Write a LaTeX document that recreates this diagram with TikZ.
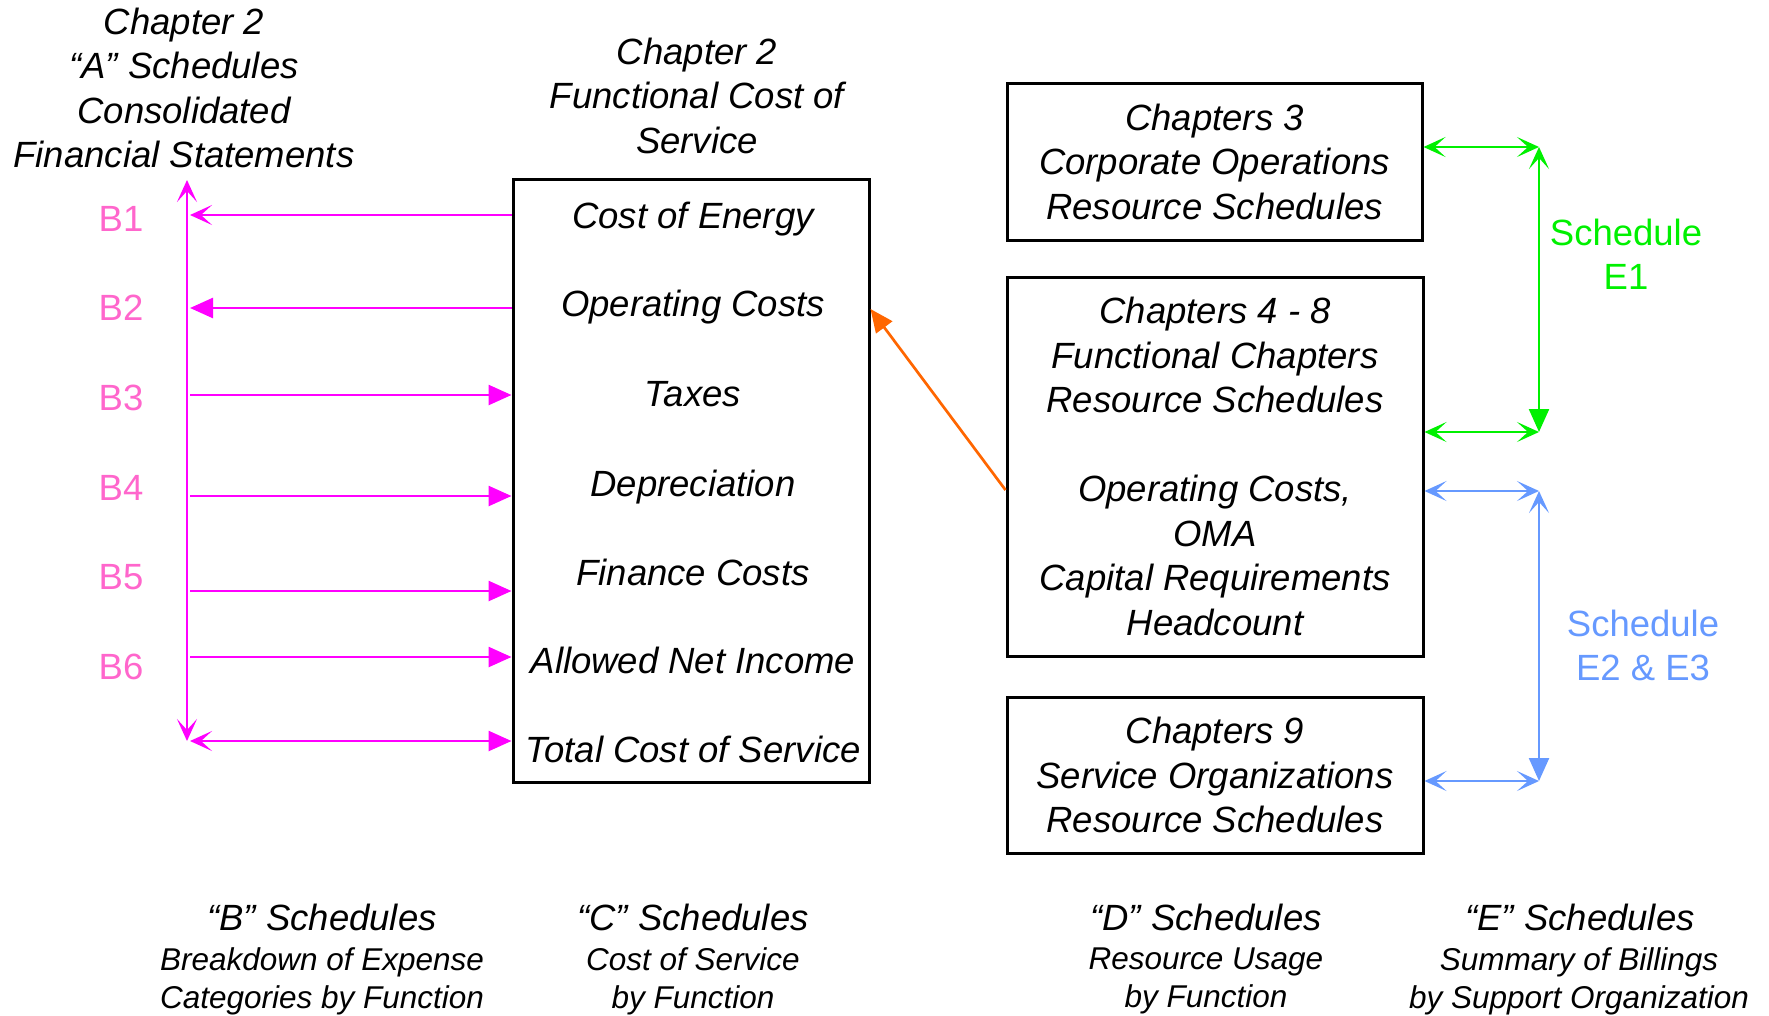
\documentclass[tikz,border=0pt]{standalone}
\usepackage{fontspec}
\setmainfont{Liberation Sans}
\usetikzlibrary{arrows.meta}
\definecolor{mag}{HTML}{FF00FF}
\definecolor{pinklab}{HTML}{FF66CC}
\definecolor{grn}{HTML}{00F000}
\definecolor{blu}{HTML}{6699FF}
\definecolor{org}{HTML}{FF6600}
\tikzset{
  myb/.tip={Stealth[length=22pt,width=20pt,inset=11pt]},
  myt/.tip={Triangle[length=23pt,width=20pt]},
  big/.style={font=\fontsize{36.5}{44.5}\selectfont\itshape, align=center, inner sep=0pt},
  one/.style={text height=26pt, text depth=0pt},
  small/.style={font=\fontsize{31.5}{38}\selectfont\itshape, align=center, inner sep=0pt},
  lab/.style={font=\fontsize{36.5}{44.5}\selectfont, align=center, inner sep=0pt},
  bx/.style={draw=black, line width=3pt, inner sep=0pt, big},
  pk/.style={draw=mag, line width=2.6pt},
  gr/.style={draw=grn, line width=2.3pt},
  bl/.style={draw=blu, line width=2.3pt},
  orl/.style={draw=org, line width=2.7pt},
}
\begin{document}
\begin{tikzpicture}[x=1pt,y=-1pt]
\useasboundingbox (0,0) rectangle (1769,1015);

% titles
\node[big] (tA) at (184,88) {Chapter 2\\“A” Schedules\\Consolidated\\Financial Statements};
\node[big] (tC) at (697,95.5) {Chapter 2\\Functional Cost of\\Service};

% middle box
\node[bx, minimum width=356pt, minimum height=603pt] (cosbox) at (691,480.5) {};
\node[big,one] (ce) at (693,215) {Cost of Energy};
\node[big,one] (oc) at (693,303) {Operating Costs};
\node[big,one] (tx) at (693,393) {Taxes};
\node[big,one] (dp) at (693,483) {Depreciation};
\node[big,one] (fc) at (693,572) {Finance Costs};
\node[big,one] (ani) at (693,660) {Allowed Net Income};
\node[big,one] (tcs) at (693,749) {Total Cost of Service};

% right boxes
\node[bx, minimum width=415pt, minimum height=157pt] (d3) at (1214.5,161.5) {Chapters 3\\Corporate Operations\\Resource Schedules};
\node[bx, minimum width=416pt, minimum height=379pt] (d48) at (1215,466.5) {Chapters 4 - 8\\Functional Chapters\\Resource Schedules\\[44.5pt]Operating Costs,\\OMA\\Capital Requirements\\Headcount};
\node[bx, minimum width=416pt, minimum height=156pt] (d9) at (1215,775) {Chapters 9\\Service Organizations\\Resource Schedules};

% B labels
\node[lab,one,text=pinklab] (lb1) at (121,218) {B1};
\node[lab,one,text=pinklab] (lb2) at (121,307) {B2};
\node[lab,one,text=pinklab] (lb3) at (121,397) {B3};
\node[lab,one,text=pinklab] (lb4) at (121,487) {B4};
\node[lab,one,text=pinklab] (lb5) at (121,576) {B5};
\node[lab,one,text=pinklab] (lb6) at (121,666) {B6};

% E labels
\node[lab,text=grn] (e1) at (1626,254.5) {Schedule\\E1};
\node[lab,text=blu] (e23) at (1643,645.5) {Schedule\\E2 \& E3};

% bottom captions
\node[big,one] (hB) at (322,917) {“B” Schedules};
\node[small] (sB) at (322,981) {Breakdown of Expense\\Categories by Function};
\node[big,one] (hC) at (693,917) {“C” Schedules};
\node[small] (sC) at (693,981) {Cost of Service\\by Function};
\node[big,one] (hD) at (1206,917) {“D” Schedules};
\node[small] (sD) at (1206,981) {Resource Usage\\by Function};
\node[big,one] (hE) at (1580,917) {“E” Schedules};
\node[small] (sE) at (1579,981) {Summary of Billings\\by Support Organization};

% pink connectors
\coordinate (b1) at (190,215);
\coordinate (b2) at (190,308);
\coordinate (b3) at (190,395);
\coordinate (b4) at (190,496);
\coordinate (b5) at (190,591);
\coordinate (b6) at (190,657);
\coordinate (b7) at (190,741);
\coordinate (spT) at (187,180);
\coordinate (spB) at (187,741);
\draw[pk,-myb] (cosbox.west |- b1) -- (b1);
\draw[pk,-myt] (cosbox.west |- b2) -- (b2);
\draw[pk,-myt] (b3) -- (cosbox.west |- b3);
\draw[pk,-myt] (b4) -- (cosbox.west |- b4);
\draw[pk,-myt] (b5) -- (cosbox.west |- b5);
\draw[pk,-myt] (b6) -- (cosbox.west |- b6);
\draw[pk,myb-myt] (b7) -- (cosbox.west |- b7);
\draw[pk,myb-myb] (spB) -- (spT);

% orange connector
\coordinate (os) at (1007,490);
\coordinate (ot) at (870,309);
\draw[orl,-myt] (d48.west |- os) -- (cosbox.east |- ot);

% green connectors
\coordinate (g1) at (1539,147);
\coordinate (g2) at (1539,432);
\draw[gr,myb-myb] (d3.east |- g1) -- (g1);
\draw[gr,myb-myt] (g1) -- (g2);
\draw[gr,myb-myb] (d48.east |- g2) -- (g2);

% blue connectors
\coordinate (u1) at (1539,491);
\coordinate (u2) at (1539,781);
\draw[bl,myb-myb] (d48.east |- u1) -- (u1);
\draw[bl,myb-myt] (u1) -- (u2);
\draw[bl,myb-myb] (d9.east |- u2) -- (u2);
\end{tikzpicture}
\end{document}
